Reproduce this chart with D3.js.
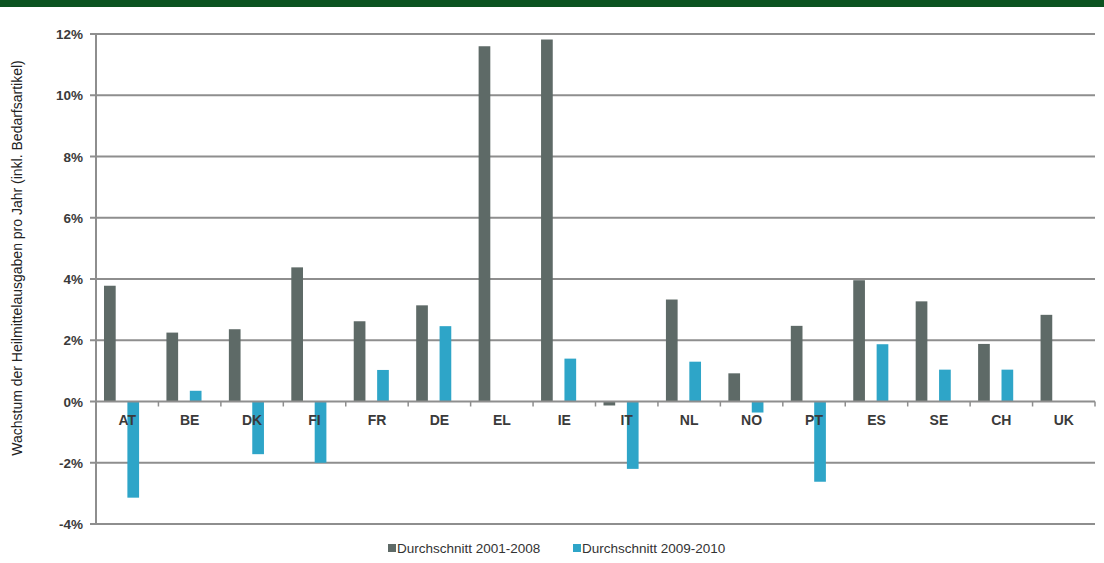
<!DOCTYPE html>
<html lang="de">
<head>
<meta charset="UTF-8">
<title>Wachstum der Heilmittelausgaben</title>
<script src="https://d3js.org/d3.v7.min.js"></script>
<style>
    body { margin: 0; background: #fff; }
    text { font-family: "Liberation Sans", Arial, sans-serif; }
    .grid line { stroke: #8e8e8e; stroke-width: 2px; }
    .ylab { font-size: 13.5px; font-weight: bold; fill: #3a3a3a; }
    .xlab { font-size: 14px; font-weight: bold; fill: #3a3a3a; }
</style>
</head>
<body>
<svg width="1104" height="563"></svg>
<script>
    // Daten
    var countries = ["AT","BE","DK","FI","FR","DE","EL","IE","IT","NL","NO","PT","ES","SE","CH","UK"];
    var avg2001_2008 = [3.78, 2.25, 2.36, 4.38, 2.62, 3.14, 11.6, 11.82, -0.13, 3.33, 0.92, 2.47, 3.96, 3.27, 1.88, 2.83];
    var avg2009_2010 = [-3.14, 0.35, -1.72, -2.0, 1.03, 2.46, null, 1.4, -2.2, 1.3, -0.36, -2.62, 1.87, 1.04, 1.04, null];
    var seriesNames = ["Durchschnitt 2001-2008", "Durchschnitt 2009-2010"];
    var seriesColors = ["#5e6a67", "#2ea5c8"];
    var yTicks = [-4, -2, 0, 2, 4, 6, 8, 10, 12];

    var svg = d3.select("svg");

    // gruener Balken oben
    svg.append("rect").attr("x", 0).attr("y", 0).attr("width", 1104).attr("height", 7).attr("fill", "#0b5320");

    var x = d3.scaleBand().domain(countries).range([96, 1095]);
    var bw = x.bandwidth();
    var x1 = d3.scaleBand().domain([0, 1]).range([bw * 0.128, bw * 0.69]).paddingInner(0.5);
    var y = d3.scaleLinear().domain([-4, 12]).range([524, 34]);

    // Gitterlinien
    svg.append("g").attr("class", "grid")
        .selectAll("line").data(yTicks.filter(function(d) { return d !== 0; }))
        .enter().append("line")
        .attr("x1", 90).attr("x2", 1095)
        .attr("y1", function(d) { return y(d); })
        .attr("y2", function(d) { return y(d); });

    // linke Achse
    svg.append("line").attr("x1", 96).attr("x2", 96).attr("y1", y(12)).attr("y2", y(-4))
        .attr("stroke", "#8e8e8e").attr("stroke-width", 2);

    svg.append("g").selectAll("text").data(yTicks).enter().append("text")
        .attr("class", "ylab")
        .attr("x", 83).attr("y", function(d) { return y(d) + 5; })
        .attr("text-anchor", "end")
        .text(function(d) { return d + "%"; });

    // Balken
    var data = countries.map(function(c, i) {
        return { c: c, v: [avg2001_2008[i], avg2009_2010[i]] };
    });

    var groups = svg.append("g").selectAll("g").data(data).enter().append("g")
        .attr("transform", function(d) { return "translate(" + x(d.c) + ",0)"; });

    groups.selectAll("rect")
        .data(function(d) { return d.v.map(function(v, k) { return { k: k, v: v }; }).filter(function(e) { return e.v !== null; }); })
        .enter().append("rect")
        .attr("x", function(e) { return x1(e.k); })
        .attr("width", x1.bandwidth())
        .attr("y", function(e) { return Math.min(y(e.v), y(0)); })
        .attr("height", function(e) { return Math.abs(y(e.v) - y(0)); })
        .attr("fill", function(e) { return seriesColors[e.k]; });

    // Nulllinie mit Teilstrichen
    svg.append("line").attr("x1", 90).attr("x2", 1095).attr("y1", y(0)).attr("y2", y(0))
        .attr("stroke", "#8e8e8e").attr("stroke-width", 2);
    svg.append("g").selectAll("line").data(countries.slice(1).concat(["end"])).enter().append("line")
        .attr("x1", function(d) { return d === "end" ? 1095 : x(d); })
        .attr("x2", function(d) { return d === "end" ? 1095 : x(d); })
        .attr("y1", y(0)).attr("y2", y(0) + 5)
        .attr("stroke", "#8e8e8e").attr("stroke-width", 1.5);

    svg.append("g").selectAll("text").data(countries).enter().append("text")
        .attr("class", "xlab")
        .attr("x", function(d) { return x(d) + bw / 2; })
        .attr("y", y(0) + 23)
        .attr("text-anchor", "middle")
        .text(function(d) { return d; });

    // y-Achsentitel
    svg.append("text")
        .attr("transform", "translate(22,258) rotate(-90)")
        .attr("text-anchor", "middle")
        .style("font-size", "14px")
        .attr("fill", "#222")
        .text("Wachstum der Heilmittelausgaben pro Jahr (inkl. Bedarfsartikel)");

    // Legende
    var legX = [388, 573];
    var leg = svg.append("g").selectAll("g").data(seriesNames).enter().append("g")
        .attr("transform", function(d, i) { return "translate(" + legX[i] + ",553)"; });
    leg.append("rect").attr("x", 0).attr("y", -9).attr("width", 8).attr("height", 8)
        .attr("fill", function(d, i) { return seriesColors[i]; });
    leg.append("text").attr("x", 9).attr("y", 0)
        .style("font-size", "13.5px").attr("fill", "#333")
        .text(function(d) { return d; });
</script>
</body>
</html>
